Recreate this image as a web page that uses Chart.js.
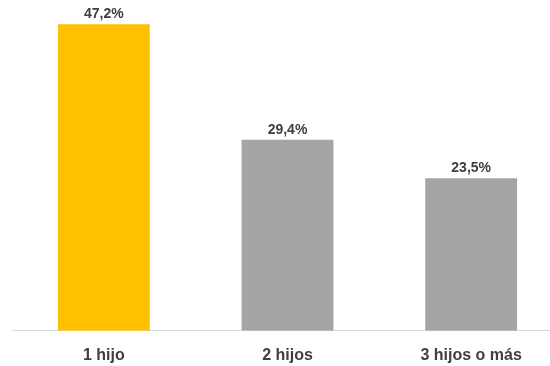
<!DOCTYPE html>
<html>
<head>
<meta charset="utf-8">
<script src="https://cdn.jsdelivr.net/npm/chart.js@4/dist/chart.umd.min.js"></script>
<style>
  html, body { margin: 0; padding: 0; background: #ffffff; overflow: hidden; }
  #wrap { position: absolute; left: 0; top: 0; width: 563px; height: 366px; }
</style>
</head>
<body>
<div id="wrap"><canvas id="chart"></canvas></div>
<script>
// Share of households by number of children (%)
const categories = ['1 hijo', '2 hijos', '3 hijos o más'];
const shares = [47.2, 29.4, 23.5];
const barColors = ['#FFC000', '#A5A5A5', '#A5A5A5'];
const valueLabels = ['47,2%', '29,4%', '23,5%'];

const FONT = '"Liberation Sans", Arial, sans-serif';

// Writes the value text just above each bar
const barValueLabels = {
  id: 'barValueLabels',
  afterDatasetsDraw(chart) {
    const ctx = chart.ctx;
    const meta = chart.getDatasetMeta(0);
    ctx.save();
    ctx.font = 'bold 14px ' + FONT;
    ctx.fillStyle = '#404040';
    ctx.textAlign = 'center';
    ctx.textBaseline = 'bottom';
    meta.data.forEach((bar, i) => {
      ctx.fillText(valueLabels[i], bar.x, bar.y - 3);
    });
    ctx.restore();
  }
};

new Chart(document.getElementById('chart'), {
  type: 'bar',
  data: {
    labels: categories,
    datasets: [{
      data: shares,
      backgroundColor: barColors,
      borderWidth: 0,
      categoryPercentage: 1.0,
      barPercentage: 0.5
    }]
  },
  options: {
    responsive: true,
    maintainAspectRatio: false,
    animation: false,
    layout: { padding: { left: 12, right: 0, top: 6, bottom: -14 } },
    plugins: {
      legend: { display: false },
      tooltip: { enabled: false }
    },
    scales: {
      x: {
        grid: { display: false, drawTicks: false },
        border: { display: true, color: '#D9D9D9', width: 1 },
        ticks: {
          color: '#404040',
          font: { family: FONT, size: 16, weight: 'bold' },
          padding: 15
        }
      },
      y: {
        display: false,
        min: 0,
        max: 50
      }
    }
  },
  plugins: [barValueLabels]
});
</script>
</body>
</html>
